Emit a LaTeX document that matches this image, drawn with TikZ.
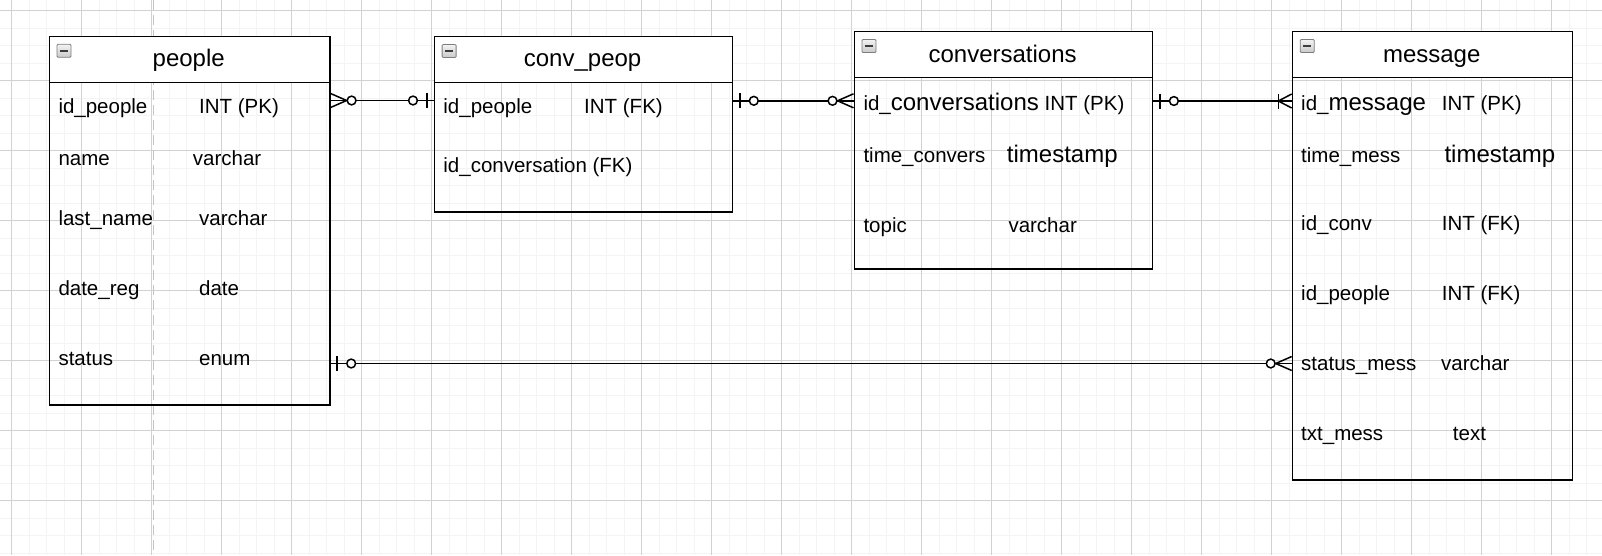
\documentclass[tikz,border=0pt]{standalone}
\usepackage{fontspec}
\setmainfont{Liberation Sans}
\usetikzlibrary{calc}
\definecolor{gmaj}{RGB}{210,210,210}
\definecolor{gmin}{RGB}{244,244,244}
\definecolor{dashc}{RGB}{196,196,196}
\definecolor{iconborder}{RGB}{125,125,125}
\definecolor{iconminus}{RGB}{60,60,60}
\tikzset{
  zeroone/.pic={
    \draw[erline] (6.6,-7.5) -- (6.6,7.5);
    \draw[erline, fill=white] (20.6,0) circle[radius=4.4];
  },
  zeromany/.pic={
    \draw[erline] (0,-7) -- (16,0) -- (0,7);
    \draw[erline, fill=white] (21,0) circle[radius=4.4];
  },
  onemany/.pic={
    \draw[erline] (13.4,-7.5) -- (13.4,7.5);
    \draw[erline] (0,-7) -- (13.4,0) -- (0,7);
  }
}
\begin{document}
\begin{tikzpicture}[x=1pt,y=-1pt,
  tbl/.style={draw=black, line width=1.6pt, inner sep=0pt, anchor=north west},
  hdr/.style={tbl, fill=white, minimum height=46pt},
  fld/.style={inner sep=0pt, anchor=base west, font=\fontsize{20.5pt}{24pt}\selectfont},
  fldbig/.style={fld, font=\fontsize{24pt}{28pt}\selectfont},
  ttl/.style={inner sep=0pt, anchor=base, font=\fontsize{24pt}{28pt}\selectfont},
  tblicon/.style={draw=iconborder, line width=0.8pt, rounded corners=1pt, top color=gray!10, bottom color=gray!42, minimum width=14pt, minimum height=13pt, inner sep=0pt},
  erline/.style={draw=black, line width=1.5pt, line join=round},
  minorgrid/.style={draw=gmin, line width=1.3pt},
  majorgrid/.style={draw=gmaj, line width=1pt}
]
\useasboundingbox (0,0) rectangle (1602,555);
\fill[white] (0,0) rectangle (1602,555);
% grid
\foreach \i in {0,...,91} { \draw[minorgrid] ({-5.8+17.5*\i},0) -- ({-5.8+17.5*\i},555); }
\foreach \i in {0,...,32} { \draw[minorgrid] (0,{-6.8+17.5*\i}) -- (1602,{-6.8+17.5*\i}); }
\foreach \i in {0,...,22} { \draw[majorgrid] ({11.7+70*\i},0) -- ({11.7+70*\i},555); }
\foreach \i in {0,...,7} { \draw[majorgrid] (0,{10.7+70*\i}) -- (1602,{10.7+70*\i}); }
\draw[dashc, line width=1.4pt, dash pattern=on 10pt off 5pt] (153.5,0) -- (153.5,555);

% tables
\node[tbl, minimum width=280.5pt, minimum height=368.5pt] (people) at (48.5,35.5) {};
\node[hdr, minimum width=280.5pt] (peopleH) at (people.north west) {};
\node[tbl, minimum width=298pt, minimum height=175.3pt] (convpeop) at (433.6,35.7) {};
\node[hdr, minimum width=298pt] (convpeopH) at (convpeop.north west) {};
\node[tbl, minimum width=298.2pt, minimum height=237.6pt] (convs) at (853.5,30.7) {};
\node[hdr, minimum width=298.2pt] (convsH) at (convs.north west) {};
\node[tbl, minimum width=280pt, minimum height=448.3pt] (message) at (1291.7,30.7) {};
\node[hdr, minimum width=280pt] (messageH) at (message.north west) {};

% icons
\node[tblicon] (peopleI) at ($(people.north west)+(15.5,15.3)$) {\textcolor{iconminus}{\rule{8.5pt}{1.8pt}}};
\node[tblicon] (convpeopI) at ($(convpeop.north west)+(15.5,15.3)$) {\textcolor{iconminus}{\rule{8.5pt}{1.8pt}}};
\node[tblicon] (convsI) at ($(convs.north west)+(15.5,15.3)$) {\textcolor{iconminus}{\rule{8.5pt}{1.8pt}}};
\node[tblicon] (messageI) at ($(message.north west)+(15.5,15.3)$) {\textcolor{iconminus}{\rule{8.5pt}{1.8pt}}};

% titles
\node[ttl] (peopleT) at (188.75,66.5) {people};
\node[ttl] (convpeopT) at (582.6,66.8) {conv\_peop};
\node[ttl] (convsT) at (1002.6,62) {conversations};
\node[ttl] (messageT) at (1431.7,62) {message};

% people fields
\node[fld] (p1a) at (58.3,113.3) {id\_people};
\node[fld] (p1b) at (199,113.3) {INT (PK)};
\node[fld] (p2a) at (58.3,165) {name};
\node[fld] (p2b) at (192.7,165) {varchar};
\node[fld] (p3a) at (58.3,225.3) {last\_name};
\node[fld] (p3b) at (199,225.3) {varchar};
\node[fld] (p4a) at (58.3,295) {date\_reg};
\node[fld] (p4b) at (199,295) {date};
\node[fld] (p5a) at (58.3,365) {status};
\node[fld] (p5b) at (199,365) {enum};

% conv_peop fields
\node[fld] (cp1a) at (443.2,113.3) {id\_people};
\node[fld] (cp1b) at (584,113.3) {INT (FK)};
\node[fld] (cp2a) at (443.2,172.3) {id\_conversation (FK)};

% conversations fields
\node[fld] (c1a) at (863.3,110.7) {id\_{\fontsize{24pt}{28pt}\selectfont conversations} INT (PK)};
\node[fld] (c2a) at (863.3,162.7) {time\_convers};
\node[fldbig] (c2b) at (1006.7,162.7) {timestamp};
\node[fld] (c3a) at (863.3,232.3) {topic};
\node[fld] (c3b) at (1008.3,232.3) {varchar};

% message fields
\node[fld] (m1a) at (1301,110.7) {id\_{\fontsize{24pt}{28pt}\selectfont message}};
\node[fld] (m1b) at (1441.7,110.7) {INT (PK)};
\node[fld] (m2a) at (1301,162.7) {time\_mess};
\node[fldbig] (m2b) at (1444.3,162.7) {timestamp};
\node[fld] (m3a) at (1301,230) {id\_conv};
\node[fld] (m3b) at (1441.7,230) {INT (FK)};
\node[fld] (m4a) at (1301,300) {id\_people};
\node[fld] (m4b) at (1441.7,300) {INT (FK)};
\node[fld] (m5a) at (1301,370) {status\_mess};
\node[fld] (m5b) at (1441,370) {varchar};
\node[fld] (m6a) at (1301,440) {txt\_mess};
\node[fld] (m6b) at (1452.7,440) {text};

% connectors
\draw[erline] (people.east |- 0,100.5) -- (convpeop.west |- 0,100.5);
\draw[erline] (convpeop.east |- 0,100.8) -- (convs.west |- 0,100.8);
\draw[erline] (convs.east |- 0,101) -- (message.west |- 0,101);
\draw[erline] (people.east |- 0,363.5) -- (message.west |- 0,363.5);

\pic at (people.east |- 0,100.5) {zeromany};
\pic[rotate=180] at (convpeop.west |- 0,100.5) {zeroone};
\pic at (convpeop.east |- 0,100.8) {zeroone};
\pic[rotate=180] at (convs.west |- 0,100.8) {zeromany};
\pic at (convs.east |- 0,101) {zeroone};
\pic[rotate=180] at (message.west |- 0,101) {onemany};
\pic at (people.east |- 0,363.5) {zeroone};
\pic[rotate=180] at (message.west |- 0,363.5) {zeromany};
\end{tikzpicture}
\end{document}
